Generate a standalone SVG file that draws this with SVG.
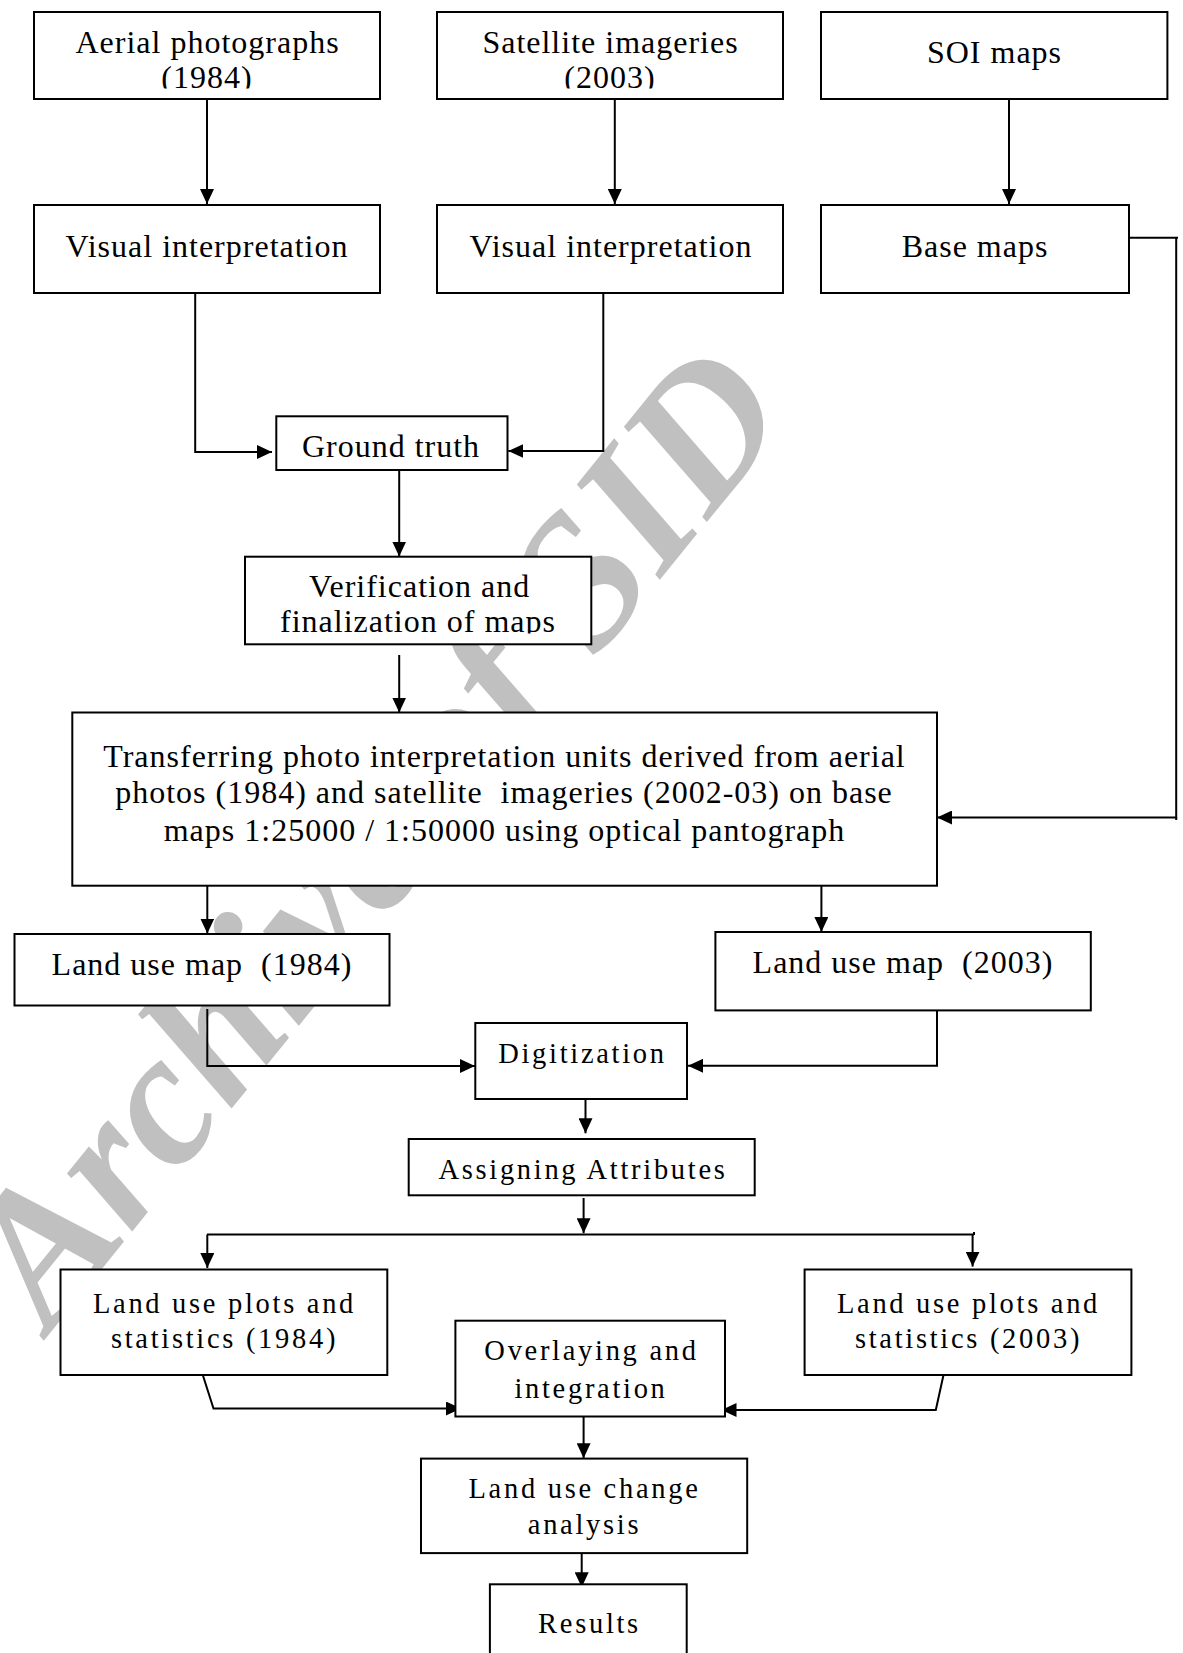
<svg xmlns="http://www.w3.org/2000/svg" width="1183" height="1653" viewBox="0 0 1183 1653">
<style>
.box{fill:#fff;stroke:#000;stroke-width:2}
.t{font-family:"Liberation Serif","Times New Roman",serif;font-size:32px;letter-spacing:1px;text-anchor:middle;fill:#000}
.s{font-family:"Liberation Serif","Times New Roman",serif;font-size:28.5px;letter-spacing:2.7px;text-anchor:middle;fill:#000}
.c{fill:none;stroke:#000;stroke-width:2}
.wm{font-family:"Liberation Serif","Times New Roman",serif;font-size:190px;font-weight:bold;font-style:italic;fill:#c0c0c0}
</style>
<defs>
<marker id="ah" markerUnits="userSpaceOnUse" markerWidth="15" markerHeight="14" viewBox="0 0 15 14" refX="15" refY="7" orient="auto">
<path d="M0,0 L15,7 L0,14 Z" fill="#000"/>
</marker>
<clipPath id="clipA"><rect x="0" y="0" width="1183" height="88.5"/></clipPath>
<clipPath id="clipV"><rect x="0" y="500" width="1183" height="133.5"/></clipPath>
</defs>
<rect width="1183" height="1653" fill="#fff"/>
<text class="wm" x="50" y="1333" transform="rotate(-51 50 1333)">Archive of SID</text>
<g id="connectors">
<path class="c" marker-end="url(#ah)" d="M207,99 V204"/>
<path class="c" marker-end="url(#ah)" d="M614.8,99 V204"/>
<path class="c" marker-end="url(#ah)" d="M1009,99 V204"/>
<path class="c" d="M195.2,293 V453"/>
<path class="c" marker-end="url(#ah)" d="M195.2,452 H272"/>
<path class="c" marker-end="url(#ah)" d="M603.3,293 V451 H508.3"/>
<path class="c" d="M1129,237.7 H1178"/>
<path class="c" marker-end="url(#ah)" d="M1176.2,237.7 V817.5 H937"/>
<path class="c" d="M1176.2,817 V820"/>
<path class="c" marker-end="url(#ah)" d="M399.2,470 V556.5"/>
<path class="c" marker-end="url(#ah)" d="M399.2,655 V712.5"/>
<path class="c" marker-end="url(#ah)" d="M207.3,886 V933.5"/>
<path class="c" marker-end="url(#ah)" d="M821.4,886 V932"/>
<path class="c" marker-end="url(#ah)" d="M207.3,1009 V1066 H475"/>
<path class="c" marker-end="url(#ah)" d="M937,1010 V1065.8 H688"/>
<path class="c" marker-end="url(#ah)" d="M585.5,1099 V1133.3"/>
<path class="c" marker-end="url(#ah)" d="M583.6,1198 V1233.2"/>
<path class="c" d="M207,1234.5 H974 M974,1232 V1235"/>
<path class="c" marker-end="url(#ah)" d="M207.3,1234.5 V1268"/>
<path class="c" marker-end="url(#ah)" d="M972.6,1234.5 V1266.6"/>
<path class="c" marker-end="url(#ah)" d="M202.8,1375 L213.5,1408.5 H461"/>
<path class="c" marker-end="url(#ah)" d="M943.5,1375 L935.8,1410 H721.5"/>
<path class="c" marker-end="url(#ah)" d="M583.6,1412 V1458.2"/>
<path class="c" marker-end="url(#ah)" d="M581.7,1553 V1587.3"/>
</g>
<g id="aerial">
<rect class="box" x="34" y="12" width="346" height="87"/>
<text class="t" x="207.5" y="52.5">Aerial photographs</text>
<text class="t" x="207" y="88" clip-path="url(#clipA)">(1984)</text>
</g>
<g id="satellite">
<rect class="box" x="437" y="12" width="346" height="87"/>
<text class="t" x="610.5" y="52.5">Satellite imageries</text>
<text class="t" x="610" y="88" clip-path="url(#clipA)">(2003)</text>
</g>
<g id="soi">
<rect class="box" x="821" y="12" width="346.4" height="87"/>
<text class="t" x="994.5" y="63">SOI maps</text>
</g>
<g id="visual1">
<rect class="box" x="34" y="205" width="346" height="88"/>
<text class="t" x="207" y="256.7">Visual interpretation</text>
</g>
<g id="visual2">
<rect class="box" x="437" y="205" width="346" height="88"/>
<text class="t" x="611" y="256.7">Visual interpretation</text>
</g>
<g id="basemaps">
<rect class="box" x="821" y="205" width="308" height="88"/>
<text class="t" x="975" y="257">Base maps</text>
</g>
<g id="groundtruth">
<rect class="box" x="276.3" y="416.3" width="231.2" height="53.7"/>
<text class="t" x="391" y="457">Ground truth</text>
</g>
<g id="verification">
<rect class="box" x="245" y="556.7" width="346.3" height="87.6"/>
<text class="t" x="419.5" y="596.7">Verification and</text>
<text class="t" x="418" y="631.7" clip-path="url(#clipV)">finalization of maps</text>
</g>
<g id="transferring">
<rect class="box" x="72.3" y="712.5" width="864.7" height="173.2"/>
<text class="t" x="504.5" y="766.7">Transferring photo interpretation units derived from aerial</text>
<text class="t" x="504" y="803.3" xml:space="preserve">photos (1984) and satellite  imageries (2002-03) on base</text>
<text class="t" x="504.5" y="840.7">maps 1:25000 / 1:50000 using optical pantograph</text>
</g>
<g id="landuse1984">
<rect class="box" x="14.5" y="934" width="375" height="71.5"/>
<text class="t" x="202" y="975" xml:space="preserve">Land use map  (1984)</text>
</g>
<g id="landuse2003">
<rect class="box" x="715.4" y="932" width="375.4" height="78.4"/>
<text class="t" x="903" y="972.7" xml:space="preserve">Land use map  (2003)</text>
</g>
<g id="digitization">
<rect class="box" x="475.3" y="1023" width="211.7" height="76"/>
<text class="s" x="582.5" y="1063.3">Digitization</text>
</g>
<g id="assigning">
<rect class="box" x="408.7" y="1139" width="346" height="56.3"/>
<text class="s" x="583" y="1179">Assigning Attributes</text>
</g>
<g id="plots1984">
<rect class="box" x="60.5" y="1269.5" width="326.8" height="105.5"/>
<text class="s" x="224.5" y="1313">Land use plots and</text>
<text class="s" x="224.5" y="1348">statistics (1984)</text>
</g>
<g id="plots2003">
<rect class="box" x="804.6" y="1269.5" width="326.8" height="105.5"/>
<text class="s" x="968.5" y="1313">Land use plots and</text>
<text class="s" x="968.5" y="1348">statistics (2003)</text>
</g>
<g id="overlaying">
<rect class="box" x="455.4" y="1320.7" width="269.6" height="95.8"/>
<text class="s" x="591.5" y="1360.3">Overlaying and</text>
<text class="s" x="591" y="1397.7">integration</text>
</g>
<g id="changeanalysis">
<rect class="box" x="421" y="1458.6" width="326.2" height="94.5"/>
<text class="s" x="584.5" y="1497.7">Land use change</text>
<text class="s" x="584.5" y="1534.4">analysis</text>
</g>
<g id="results">
<rect class="box" x="489.9" y="1584.3" width="196.8" height="90"/>
<text class="s" x="589.5" y="1633">Results</text>
</g>
</svg>
